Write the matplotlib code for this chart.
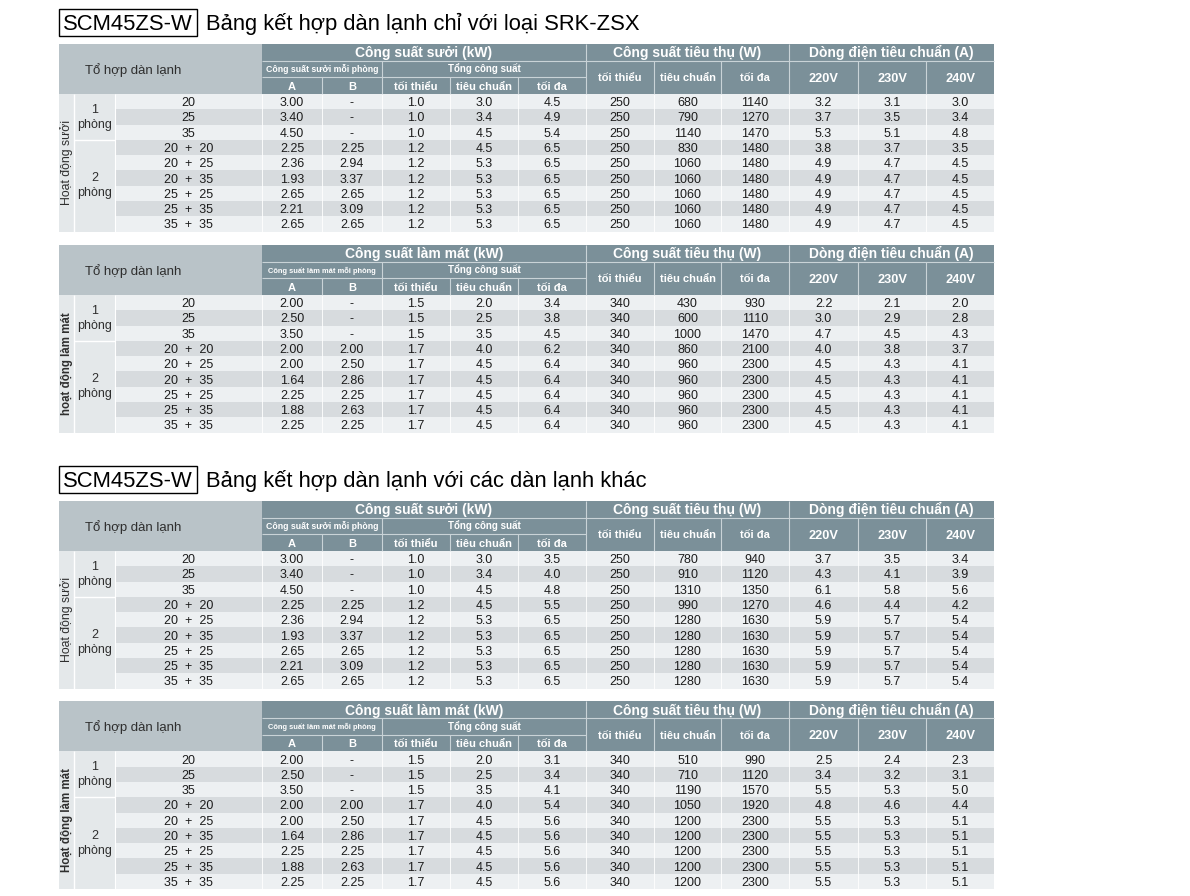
import matplotlib
matplotlib.use('Agg')
import matplotlib.pyplot as plt
from matplotlib.patches import Rectangle

FONT = ['Liberation Sans', 'DejaVu Sans']
plt.rcParams['font.family'] = FONT

# ---------------- data ----------------
model_name = "SCM45ZS-W"
title_1 = "Bảng kết hợp dàn lạnh chỉ với loại SRK-ZSX"
title_2 = "Bảng kết hợp dàn lạnh với các dàn lạnh khác"

combo_header = "Tổ hợp dàn lạnh"
combos = ["20", "25", "35", "20  +  20", "20  +  25", "20  +  35",
          "25  +  25", "25  +  35", "35  +  35"]
room_groups = [("1", "phòng"), ("2", "phòng")]
room_group_sizes = [3, 6]

heat_title = "Công suất sưởi (kW)"
cool_title = "Công suất làm mát (kW)"
heat_per_room = "Công suất sưởi mỗi phòng"
cool_per_room = "Công suất làm mát mỗi phòng"
total_label = "Tổng công suất"
kw_sub = ["A", "B", "tối thiểu", "tiêu chuẩn", "tối đa"]
w_title = "Công suất tiêu thụ (W)"
w_sub = ["tối thiểu", "tiêu chuẩn", "tối đa"]
amp_title = "Dòng điện tiêu chuẩn (A)"
volt_labels = ["220V", "230V", "240V"]

# heating, SRK-ZSX only
h1_A = [3.00, 3.40, 4.50, 2.25, 2.36, 1.93, 2.65, 2.21, 2.65]
h1_B = [None, None, None, 2.25, 2.94, 3.37, 2.65, 3.09, 2.65]
h1_min = [1.0, 1.0, 1.0, 1.2, 1.2, 1.2, 1.2, 1.2, 1.2]
h1_std = [3.0, 3.4, 4.5, 4.5, 5.3, 5.3, 5.3, 5.3, 5.3]
h1_max = [4.5, 4.9, 5.4, 6.5, 6.5, 6.5, 6.5, 6.5, 6.5]
h1_wmin = [250, 250, 250, 250, 250, 250, 250, 250, 250]
h1_wstd = [680, 790, 1140, 830, 1060, 1060, 1060, 1060, 1060]
h1_wmax = [1140, 1270, 1470, 1480, 1480, 1480, 1480, 1480, 1480]
h1_220 = [3.2, 3.7, 5.3, 3.8, 4.9, 4.9, 4.9, 4.9, 4.9]
h1_230 = [3.1, 3.5, 5.1, 3.7, 4.7, 4.7, 4.7, 4.7, 4.7]
h1_240 = [3.0, 3.4, 4.8, 3.5, 4.5, 4.5, 4.5, 4.5, 4.5]

# cooling, SRK-ZSX only
c1_A = [2.00, 2.50, 3.50, 2.00, 2.00, 1.64, 2.25, 1.88, 2.25]
c1_B = [None, None, None, 2.00, 2.50, 2.86, 2.25, 2.63, 2.25]
c1_min = [1.5, 1.5, 1.5, 1.7, 1.7, 1.7, 1.7, 1.7, 1.7]
c1_std = [2.0, 2.5, 3.5, 4.0, 4.5, 4.5, 4.5, 4.5, 4.5]
c1_max = [3.4, 3.8, 4.5, 6.2, 6.4, 6.4, 6.4, 6.4, 6.4]
c1_wmin = [340, 340, 340, 340, 340, 340, 340, 340, 340]
c1_wstd = [430, 600, 1000, 860, 960, 960, 960, 960, 960]
c1_wmax = [930, 1110, 1470, 2100, 2300, 2300, 2300, 2300, 2300]
c1_220 = [2.2, 3.0, 4.7, 4.0, 4.5, 4.5, 4.5, 4.5, 4.5]
c1_230 = [2.1, 2.9, 4.5, 3.8, 4.3, 4.3, 4.3, 4.3, 4.3]
c1_240 = [2.0, 2.8, 4.3, 3.7, 4.1, 4.1, 4.1, 4.1, 4.1]

# heating, other indoor units
h2_A = [3.00, 3.40, 4.50, 2.25, 2.36, 1.93, 2.65, 2.21, 2.65]
h2_B = [None, None, None, 2.25, 2.94, 3.37, 2.65, 3.09, 2.65]
h2_min = [1.0, 1.0, 1.0, 1.2, 1.2, 1.2, 1.2, 1.2, 1.2]
h2_std = [3.0, 3.4, 4.5, 4.5, 5.3, 5.3, 5.3, 5.3, 5.3]
h2_max = [3.5, 4.0, 4.8, 5.5, 6.5, 6.5, 6.5, 6.5, 6.5]
h2_wmin = [250, 250, 250, 250, 250, 250, 250, 250, 250]
h2_wstd = [780, 910, 1310, 990, 1280, 1280, 1280, 1280, 1280]
h2_wmax = [940, 1120, 1350, 1270, 1630, 1630, 1630, 1630, 1630]
h2_220 = [3.7, 4.3, 6.1, 4.6, 5.9, 5.9, 5.9, 5.9, 5.9]
h2_230 = [3.5, 4.1, 5.8, 4.4, 5.7, 5.7, 5.7, 5.7, 5.7]
h2_240 = [3.4, 3.9, 5.6, 4.2, 5.4, 5.4, 5.4, 5.4, 5.4]

# cooling, other indoor units
c2_A = [2.00, 2.50, 3.50, 2.00, 2.00, 1.64, 2.25, 1.88, 2.25]
c2_B = [None, None, None, 2.00, 2.50, 2.86, 2.25, 2.63, 2.25]
c2_min = [1.5, 1.5, 1.5, 1.7, 1.7, 1.7, 1.7, 1.7, 1.7]
c2_std = [2.0, 2.5, 3.5, 4.0, 4.5, 4.5, 4.5, 4.5, 4.5]
c2_max = [3.1, 3.4, 4.1, 5.4, 5.6, 5.6, 5.6, 5.6, 5.6]
c2_wmin = [340, 340, 340, 340, 340, 340, 340, 340, 340]
c2_wstd = [510, 710, 1190, 1050, 1200, 1200, 1200, 1200, 1200]
c2_wmax = [990, 1120, 1570, 1920, 2300, 2300, 2300, 2300, 2300]
c2_220 = [2.5, 3.4, 5.5, 4.8, 5.5, 5.5, 5.5, 5.5, 5.5]
c2_230 = [2.4, 3.2, 5.3, 4.6, 5.3, 5.3, 5.3, 5.3, 5.3]
c2_240 = [2.3, 3.1, 5.0, 4.4, 5.1, 5.1, 5.1, 5.1, 5.1]

# ---------------- layout & style ----------------
W, H = 1190, 896
COL_EDGES = [59, 74, 115, 262, 322, 382, 450, 518, 586, 654, 721, 789, 858, 926, 994]
HEAD_H = [16.7, 16.5, 16.8]
ROW_H = 15.28

HEAD_DARK = '#7b9099'
HEAD_LIGHT = '#b9c3c8'
HEAD_LINE = '#c9d3d7'
ROW_LIGHT = '#edf0f2'
ROW_DARK = '#d7dbde'
LEFT_BG = '#e4e8ea'
TEXT_DARK = '#1c1c1c'

DATA_FS = 9.0
GROUP_FS = 10.0
SUB_FS = 8.0

fig = plt.figure(figsize=(W / 100, H / 100), dpi=100)
ax = fig.add_axes([0, 0, 1, 1])
ax.set_xlim(0, W)
ax.set_ylim(H, 0)
ax.axis('off')

PX = 100 / 72.0


def txt(x, yc, s, size, color=TEXT_DARK, weight='normal', ha='center'):
    base = yc + size * PX * 0.716 / 2
    ax.text(x, base, s, fontsize=size, color=color, fontweight=weight,
            ha=ha, va='baseline', family=FONT)


def rect(x0, y0, x1, y1, color):
    ax.add_patch(Rectangle((x0, y0), x1 - x0, y1 - y0, facecolor=color,
                           edgecolor='none', lw=0))


def line(x0, y0, x1, y1, color, lw):
    ax.plot([x0, x1], [y0, y1], color=color, lw=lw, solid_capstyle='butt')


def fmt(v, nd):
    return "-" if v is None else f"{v:.{nd}f}"


def draw_title(ybox, text):
    ax.add_patch(Rectangle((58.5, ybox), 138.5, 27, facecolor='none',
                           edgecolor='black', lw=1.0))
    base = ybox + 21
    ax.text(127.5, base, model_name, fontsize=15.8, ha='center', va='baseline',
            color='black', family=FONT)
    ax.text(206, base, text, fontsize=15.8, ha='left', va='baseline',
            color='black', family=FONT)


def draw_table(top, kw_title, per_room, per_room_fs, mode_label, mode_bold, columns):
    E = COL_EDGES
    y0 = top
    y1 = y0 + HEAD_H[0]
    y2 = y1 + HEAD_H[1]
    y3 = y2 + HEAD_H[2]
    ys = [y3 + i * ROW_H for i in range(len(combos) + 1)]
    bottom = ys[-1]

    # header backgrounds
    rect(E[0], y0, E[3], y3, HEAD_LIGHT)
    rect(E[3], y0, E[-1], y3, HEAD_DARK)
    txt(133.5, (y0 + y3) / 2, combo_header, 9.5, '#2e2e2e')

    txt((E[3] + E[8]) / 2, (y0 + y1) / 2, kw_title, GROUP_FS, 'white', 'bold')
    txt((E[8] + E[11]) / 2, (y0 + y1) / 2, w_title, GROUP_FS, 'white', 'bold')
    txt((E[11] + E[14]) / 2, (y0 + y1) / 2, amp_title, GROUP_FS, 'white', 'bold')
    txt((E[3] + E[5]) / 2, (y1 + y2) / 2, per_room, per_room_fs, 'white', 'bold')
    txt((E[5] + E[8]) / 2, (y1 + y2) / 2, total_label, 7.0, 'white', 'bold')
    for j, lab in enumerate(kw_sub):
        txt((E[3 + j] + E[4 + j]) / 2, (y2 + y3) / 2, lab, SUB_FS, 'white', 'bold')
    for j, lab in enumerate(w_sub):
        txt((E[8 + j] + E[9 + j]) / 2, (y1 + y3) / 2, lab, SUB_FS, 'white', 'bold')
    for j, lab in enumerate(volt_labels):
        txt((E[11 + j] + E[12 + j]) / 2, (y1 + y3) / 2, lab, 9.2, 'white', 'bold')

    # header lines
    line(E[3], y1, E[14], y1, HEAD_LINE, 0.8)
    line(E[3], y2, E[8], y2, HEAD_LINE, 0.8)
    for k in (8, 11):
        line(E[k], y0, E[k], y3, HEAD_LINE, 0.8)
    line(E[5], y1, E[5], y3, HEAD_LINE, 0.8)
    for k in (4, 6, 7):
        line(E[k], y2, E[k], y3, HEAD_LINE, 0.8)
    for k in (9, 10, 12, 13):
        line(E[k], y1, E[k], y3, HEAD_LINE, 0.8)

    # data rows
    decimals = [2, 2, 1, 1, 1, 0, 0, 0, 1, 1, 1]
    for i, combo in enumerate(combos):
        c = ROW_LIGHT if i % 2 == 0 else ROW_DARK
        rect(E[2], ys[i], E[14], ys[i + 1], c)
        yc = (ys[i] + ys[i + 1]) / 2
        txt((E[2] + E[3]) / 2, yc, combo, DATA_FS)
        for j, col in enumerate(columns):
            txt((E[3 + j] + E[4 + j]) / 2, yc, fmt(col[i], decimals[j]), DATA_FS)

    # left label columns
    rect(E[0], y3, E[2], bottom, LEFT_BG)
    line(E[1], y3, E[1], bottom, 'white', 1.0)
    line(E[2], y3, E[2], bottom, 'white', 0.8)
    start = 0
    for (num, word), n in zip(room_groups, room_group_sizes):
        ya, yb = ys[start], ys[start + n]
        yc = (ya + yb) / 2
        xc = (E[1] + E[2]) / 2
        ax.text(xc, yc - 4.3, num, fontsize=9.0, ha='center', va='baseline',
                color='#2e2e2e', family=FONT)
        ax.text(xc, yc + 10.8, word, fontsize=9.0, ha='center', va='baseline',
                color='#2e2e2e', family=FONT)
        if start > 0:
            line(E[1], ya, E[2], ya, 'white', 1.0)
        start += n
    ax.text((E[0] + E[1]) / 2 + 0.5, (y3 + bottom) / 2, mode_label,
            fontsize=8.8 if not mode_bold else 8.3,
            fontweight='bold' if mode_bold else 'normal',
            rotation=90, ha='center', va='center', color='#2e2e2e', family=FONT)

    # faint data separators
    for k in range(3, 14):
        line(E[k], y3, E[k], bottom, 'white', 0.6)


draw_title(9, title_1)
draw_table(44, heat_title, heat_per_room, 6.3, "Hoạt động sưởi", False,
           [h1_A, h1_B, h1_min, h1_std, h1_max, h1_wmin, h1_wstd, h1_wmax,
            h1_220, h1_230, h1_240])
draw_table(245, cool_title, cool_per_room, 5.4, "hoạt động làm mát", True,
           [c1_A, c1_B, c1_min, c1_std, c1_max, c1_wmin, c1_wstd, c1_wmax,
            c1_220, c1_230, c1_240])
draw_title(466, title_2)
draw_table(501, heat_title, heat_per_room, 6.3, "Hoạt động sưởi", False,
           [h2_A, h2_B, h2_min, h2_std, h2_max, h2_wmin, h2_wstd, h2_wmax,
            h2_220, h2_230, h2_240])
draw_table(701.5, cool_title, cool_per_room, 5.4, "Hoạt động làm mát", True,
           [c2_A, c2_B, c2_min, c2_std, c2_max, c2_wmin, c2_wstd, c2_wmax,
            c2_220, c2_230, c2_240])

fig.savefig('out.png', dpi=100, facecolor='white')
